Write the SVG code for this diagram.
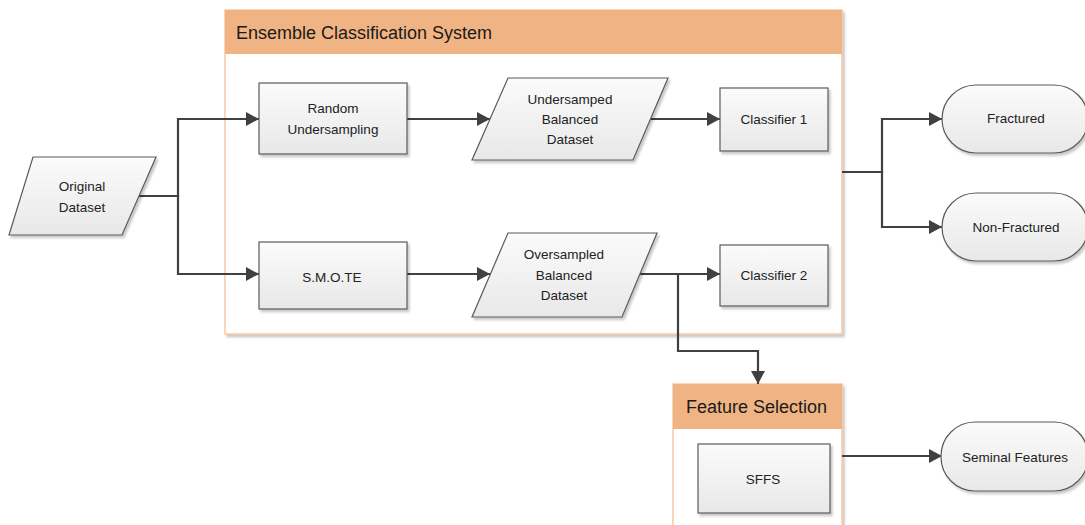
<svg xmlns="http://www.w3.org/2000/svg" width="1085" height="525" viewBox="0 0 1085 525">
<defs>
<linearGradient id="nodeFill" x1="0" y1="0" x2="0" y2="1">
<stop offset="0" stop-color="#fbfbfb"/>
<stop offset="1" stop-color="#e8e8e8"/>
</linearGradient>
<filter id="shadow" x="-10%" y="-10%" width="130%" height="130%">
<feDropShadow dx="2" dy="2.5" stdDeviation="1" flood-color="#000" flood-opacity="0.22"/>
</filter>
<marker id="arrow" markerUnits="userSpaceOnUse" markerWidth="13" markerHeight="14" refX="13" refY="7" orient="auto">
<path d="M0,0 L13,7 L0,14 z" fill="#404040"/>
</marker>
</defs>
<style>
.node{fill:url(#nodeFill);stroke:#5a5a5a;stroke-width:1.2;filter:url(#shadow)}
.lbl{font-family:"Liberation Sans",Arial,sans-serif;font-size:13.5px;fill:#222;text-anchor:middle}
.title{font-family:"Liberation Sans",Arial,sans-serif;font-size:18px;fill:#1a1a1a}
.cbody{fill:#fff;stroke:#f7c9a6;stroke-width:1.5;filter:url(#shadow)}
.chead{fill:#f0b383}
.conn{fill:none;stroke:#404040;stroke-width:2.2;marker-end:url(#arrow)}
.line{fill:none;stroke:#404040;stroke-width:2.2}
</style>
<rect width="1085" height="525" fill="#fff"/>

<g id="ensemble-container">
<rect class="cbody" x="225" y="10" width="617" height="324"/>
<rect class="chead" x="225" y="10" width="617" height="44"/>
<text class="title" x="236" y="39">Ensemble Classification System</text>
</g>

<g id="feature-selection-container">
<rect class="cbody" x="673" y="384" width="169" height="150"/>
<rect class="chead" x="673" y="384" width="169" height="45"/>
<text class="title" x="686" y="413">Feature Selection</text>
</g>

<g id="connectors">
<path class="conn" d="M139,196 H178 V119 H259"/>
<path class="conn" d="M139,196 H178 V274 H259"/>
<path class="conn" d="M407,119 H490"/>
<path class="conn" d="M651,119 H720"/>
<path class="conn" d="M407,274 H490"/>
<path class="conn" d="M640,274 H720"/>
<path class="conn" d="M640,274 H678 V351 H758 V384"/>
<path class="conn" d="M842,172 H882 V119 H942"/>
<path class="conn" d="M842,172 H882 V227 H942"/>
<path class="conn" d="M842,456 H942"/>
</g>

<g id="original-dataset">
<path class="node" d="M33,157 H156 L122,235 H9 Z"/>
<text class="lbl" x="82" y="191">Original</text>
<text class="lbl" x="82" y="212">Dataset</text>
</g>

<g id="random-undersampling">
<rect class="node" x="259" y="83" width="148" height="71"/>
<text class="lbl" x="333" y="113">Random</text>
<text class="lbl" x="333" y="134">Undersampling</text>
</g>

<g id="undersampled-dataset">
<path class="node" d="M508,78 H668 L633,160 H472 Z"/>
<text class="lbl" x="570" y="104">Undersamped</text>
<text class="lbl" x="570" y="124">Balanced</text>
<text class="lbl" x="570" y="144">Dataset</text>
</g>

<g id="classifier-1">
<rect class="node" x="720" y="88" width="108" height="63"/>
<text class="lbl" x="774" y="124">Classifier 1</text>
</g>

<g id="smote">
<rect class="node" x="259" y="242" width="148" height="67"/>
<text class="lbl" x="332" y="282">S.M.O.TE</text>
</g>

<g id="oversampled-dataset">
<path class="node" d="M508,233 H657 L622,317 H472 Z"/>
<text class="lbl" x="564" y="259">Oversampled</text>
<text class="lbl" x="564" y="280">Balanced</text>
<text class="lbl" x="564" y="300">Dataset</text>
</g>

<g id="classifier-2">
<rect class="node" x="720" y="245" width="108" height="61"/>
<text class="lbl" x="774" y="280">Classifier 2</text>
</g>

<g id="sffs">
<rect class="node" x="698" y="444" width="132" height="69"/>
<text class="lbl" x="763" y="484">SFFS</text>
</g>

<g id="fractured">
<rect class="node" x="942" y="85" width="146" height="68" rx="34" ry="34"/>
<text class="lbl" x="1016" y="123">Fractured</text>
</g>

<g id="non-fractured">
<rect class="node" x="942" y="193" width="146" height="68" rx="34" ry="34"/>
<text class="lbl" x="1016" y="232">Non-Fractured</text>
</g>

<g id="seminal-features">
<rect class="node" x="941" y="422" width="147" height="69" rx="34" ry="34"/>
<text class="lbl" x="1015" y="462">Seminal Features</text>
</g>
</svg>
